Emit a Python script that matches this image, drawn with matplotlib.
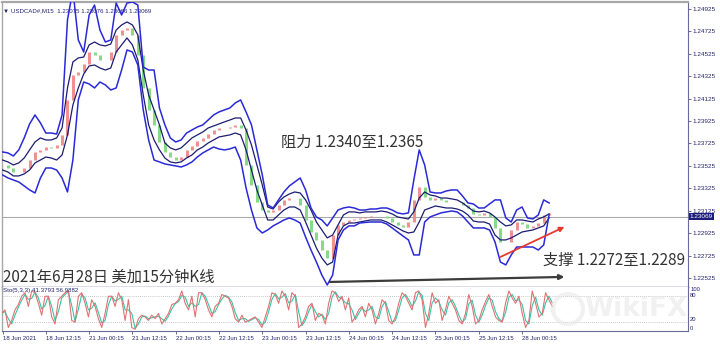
import numpy as np
import matplotlib
matplotlib.use("Agg")
import matplotlib.pyplot as plt
from matplotlib.patches import Ellipse

plt.rcParams['font.family'] = ['Noto Sans CJK SC', 'DejaVu Sans']

# USDCAD M15, one sample every 6 bars (bar 0 = 18 Jun 2021)
BAR_STEP = 6
upper_outer = [
    1.23649, 1.23640, 1.23613, 1.23667, 1.23774, 1.23899, 1.23979, 1.23908, 1.23818, 1.23818,
    1.23809, 1.23979, 1.24827, 1.25094, 1.24648, 1.24541, 1.24871, 1.24960, 1.24737, 1.24630,
    1.24648, 1.24978, 1.24871, 1.24978, 1.24987, 1.24960, 1.24407, 1.24380, 1.24380, 1.24041,
    1.23890, 1.23774, 1.23738, 1.23756, 1.23818, 1.23845, 1.23872, 1.23890, 1.23934, 1.23979,
    1.24006, 1.24024, 1.24041, 1.24086, 1.24113, 1.24006, 1.23890, 1.23667, 1.23444, 1.23176,
    1.23149, 1.23221, 1.23292, 1.23346, 1.23381, 1.23417, 1.23310, 1.23149, 1.23069, 1.23042,
    1.22989, 1.23060, 1.23131, 1.23149, 1.23158, 1.23149, 1.23131, 1.23131, 1.23140, 1.23140,
    1.23149, 1.23149, 1.23131, 1.23105, 1.23096, 1.23105, 1.23399, 1.23667, 1.23533, 1.23292,
    1.23283, 1.23283, 1.23301, 1.23310, 1.23310, 1.23256, 1.23194, 1.23185, 1.23149, 1.23149,
    1.23185, 1.23221, 1.23221, 1.23060, 1.23024, 1.23131, 1.23158, 1.23060, 1.23051, 1.23087,
    1.23221, 1.23194]
upper_inner = [
    1.23577, 1.23560, 1.23533, 1.23551, 1.23595, 1.23667, 1.23738, 1.23774, 1.23756, 1.23756,
    1.23774, 1.23863, 1.24220, 1.24452, 1.24488, 1.24496, 1.24604, 1.24630, 1.24604, 1.24595,
    1.24612, 1.24737, 1.24782, 1.24809, 1.24782, 1.24693, 1.24380, 1.24157, 1.24024, 1.23890,
    1.23729, 1.23685, 1.23667, 1.23685, 1.23729, 1.23774, 1.23801, 1.23827, 1.23863, 1.23881,
    1.23899, 1.23917, 1.23934, 1.23952, 1.23952, 1.23845, 1.23711, 1.23533, 1.23354, 1.23158,
    1.23140, 1.23203, 1.23247, 1.23274, 1.23292, 1.23283, 1.23221, 1.23131, 1.23024, 1.22953,
    1.22882, 1.22908, 1.22998, 1.23087, 1.23114, 1.23114, 1.23105, 1.23114, 1.23114, 1.23114,
    1.23122, 1.23114, 1.23096, 1.23069, 1.23060, 1.23051, 1.23114, 1.23238, 1.23292, 1.23265,
    1.23256, 1.23238, 1.23238, 1.23230, 1.23221, 1.23194, 1.23158, 1.23122, 1.23114, 1.23122,
    1.23105, 1.23069, 1.23024, 1.22989, 1.22998, 1.23042, 1.23042, 1.23033, 1.23024, 1.23051,
    1.23069, 1.23096]
close = [
    1.23533, 1.23506, 1.23470, 1.23470, 1.23506, 1.23577, 1.23649, 1.23667, 1.23693, 1.23685,
    1.23711, 1.23801, 1.24113, 1.24336, 1.24363, 1.24434, 1.24541, 1.24514, 1.24470, 1.24470,
    1.24541, 1.24693, 1.24737, 1.24755, 1.24693, 1.24514, 1.24220, 1.24024, 1.23890, 1.23738,
    1.23649, 1.23604, 1.23577, 1.23604, 1.23667, 1.23702, 1.23747, 1.23774, 1.23809, 1.23845,
    1.23863, 1.23863, 1.23872, 1.23890, 1.23863, 1.23533, 1.23354, 1.23203, 1.23131, 1.23114,
    1.23131, 1.23176, 1.23221, 1.23238, 1.23238, 1.23176, 1.23042, 1.22935, 1.22864, 1.22774,
    1.22703, 1.22908, 1.22998, 1.23024, 1.23042, 1.23051, 1.23060, 1.23069, 1.23078, 1.23078,
    1.23078, 1.23060, 1.23024, 1.22998, 1.22980, 1.23024, 1.23221, 1.23337, 1.23247, 1.23221,
    1.23238, 1.23221, 1.23203, 1.23203, 1.23203, 1.23176, 1.23149, 1.23096, 1.23087, 1.23105,
    1.23069, 1.22971, 1.22846, 1.22846, 1.22953, 1.23024, 1.23006, 1.22971, 1.22989, 1.23015,
    1.23087, 1.23105]
lower_inner = [
    1.23488, 1.23470, 1.23435, 1.23435, 1.23453, 1.23488, 1.23551, 1.23577, 1.23604, 1.23595,
    1.23577, 1.23622, 1.23801, 1.24068, 1.24220, 1.24345, 1.24416, 1.24425, 1.24398, 1.24380,
    1.24398, 1.24541, 1.24604, 1.24666, 1.24604, 1.24470, 1.24157, 1.23890, 1.23756, 1.23667,
    1.23595, 1.23560, 1.23551, 1.23560, 1.23595, 1.23622, 1.23667, 1.23693, 1.23729, 1.23756,
    1.23783, 1.23792, 1.23801, 1.23818, 1.23801, 1.23667, 1.23488, 1.23310, 1.23176, 1.23042,
    1.23042, 1.23087, 1.23131, 1.23158, 1.23158, 1.23131, 1.23024, 1.22908, 1.22792, 1.22703,
    1.22641, 1.22667, 1.22908, 1.22989, 1.23015, 1.23015, 1.23024, 1.23033, 1.23042, 1.23042,
    1.23042, 1.23024, 1.22998, 1.22971, 1.22944, 1.22926, 1.22935, 1.23024, 1.23131, 1.23149,
    1.23167, 1.23158, 1.23149, 1.23149, 1.23140, 1.23122, 1.23087, 1.23033, 1.23024, 1.23024,
    1.23006, 1.22908, 1.22864, 1.22864, 1.22882, 1.22908, 1.22935, 1.22944, 1.22953, 1.22971,
    1.22989, 1.23060]
lower_outer = [
    1.23444, 1.23417, 1.23399, 1.23381, 1.23346, 1.23310, 1.23283, 1.23417, 1.23506, 1.23506,
    1.23488, 1.23417, 1.23292, 1.23577, 1.24113, 1.24273, 1.24256, 1.24220, 1.24273, 1.24247,
    1.24202, 1.24220, 1.24380, 1.24559, 1.24541, 1.24425, 1.24024, 1.23756, 1.23577, 1.23560,
    1.23542, 1.23533, 1.23524, 1.23515, 1.23533, 1.23560, 1.23604, 1.23640, 1.23667, 1.23693,
    1.23676, 1.23667, 1.23676, 1.23693, 1.23577, 1.23328, 1.23131, 1.22971, 1.22926, 1.22953,
    1.22989, 1.23015, 1.23042, 1.23060, 1.23042, 1.23015, 1.22890, 1.22774, 1.22667, 1.22551,
    1.22462, 1.22551, 1.22864, 1.22953, 1.22989, 1.22989, 1.23015, 1.23020, 1.23024, 1.23024,
    1.23024, 1.23006, 1.22971, 1.22935, 1.22899, 1.22864, 1.22730, 1.22730, 1.23024, 1.23069,
    1.23087, 1.23105, 1.23114, 1.23122, 1.23114, 1.23078, 1.23024, 1.22971, 1.22971, 1.22971,
    1.22953, 1.22846, 1.22667, 1.22641, 1.22730, 1.22801, 1.22801, 1.22801, 1.22801, 1.22774,
    1.22819, 1.23087]

# Stochastic (5,3,3), one sample every 3.7 bars
STOCH_STEP = 3.7
stoch_main = [
    40, 48, 8, 24, 48, 60, 79, 87, 56, 91, 87, 63, 36, 79, 79, 32, 16, 71, 79, 87,
    91, 24, 20, 79, 87, 63, 32, 71, 56, 28, 8, 40, 79, 79, 56, 87, 71, 24, 71, 8,
    4, 28, 36, 32, 24, 36, 28, 40, 16, 28, 40, 60, 63, 71, 91, 63, 48, 79, 32, 87,
    87, 71, 48, 32, 56, 63, 83, 79, 75, 56, 28, 20, 36, 20, 24, 28, 32, 20, 8, 32,
    56, 87, 83, 63, 91, 79, 48, 87, 79, 8, 16, 32, 56, 63, 24, 40, 36, 16, 63, 91,
    87, 67, 79, 48, 75, 20, 32, 48,
    56, 32, 63, 48, 16, 40, 71, 63, 24, 16, 32, 63, 87, 79, 63, 48, 87, 91, 71, 8,
    40, 87, 63, 71, 24, 48, 79, 63, 48, 24, 16, 40, 83, 56, 16, 24, 48, 67, 83, 56,
    32, 24, 20, 63, 91, 75, 63, 79, 40, 8, 24, 91, 63, 32, 40, 87, 71, 56]
stoch_signal = [
    40, 44, 28, 16, 36, 54, 70, 83, 72, 74, 89, 75, 50, 58, 79, 56, 24, 44, 75, 83,
    89, 58, 22, 50, 83, 75, 48, 52, 64, 42, 18, 24, 60, 79, 68, 72, 79, 48, 48, 40,
    6, 16, 32, 34, 28, 30, 32, 34, 28, 22, 34, 50, 62, 67, 81, 77, 56, 64, 56, 60,
    87, 79, 60, 40, 44, 60, 73, 81, 77, 66, 42, 24, 28, 28, 22, 26, 30, 26, 14, 20,
    44, 72, 85, 73, 77, 85, 64, 68, 83, 44, 12, 24, 44, 60, 44, 32, 38, 26, 40, 77,
    89, 77, 73, 64, 62, 48, 26, 40,
    52, 44, 48, 56, 32, 28, 56, 67, 44, 20, 24, 48, 75, 83, 71, 56, 68, 89, 81, 40,
    24, 64, 75, 67, 48, 36, 64, 71, 56, 36, 20, 28, 62, 70, 36, 20, 36, 58, 75, 70,
    44, 28, 22, 42, 77, 83, 69, 71, 60, 24, 16, 58, 77, 48, 36, 64, 79, 64]

price_ticks = [1.22525, 1.22725, 1.22925, 1.23125, 1.23325, 1.23525, 1.23725,
               1.23925, 1.24125, 1.24325, 1.24525, 1.24725, 1.24925]
last_price = 1.23069
stoch_levels = [0, 20, 80, 100]
time_ticks = [0, 48, 96, 144, 192, 240, 288, 336, 384, 432, 480, 528, 576]
time_labels = ["18 Jun 2021", "18 Jun 12:15", "21 Jun 00:15", "21 Jun 12:15",
               "22 Jun 00:15", "22 Jun 12:15", "23 Jun 00:15", "23 Jun 12:15",
               "24 Jun 00:15", "24 Jun 12:15", "25 Jun 00:15", "25 Jun 12:15",
               "28 Jun 00:15"]

W, H = 720, 345
XLIM = (-0.6, 760)
YLIM = (1.22444, 1.24987)
LATIN = ['Liberation Sans', 'DejaVu Sans']
SMALL = dict(family=LATIN, color='#23236e')
BLUE, NAVY = '#2a2ad8', '#1c1c72'

fig = plt.figure(figsize=(W / 100, H / 100), dpi=100)
fig.patch.set_facecolor('white')
ax = fig.add_axes([2 / W, 1 - 287 / H, 686 / W, 285 / H])
ax2 = fig.add_axes([2 / W, 1 - 331 / H, 686 / W, 44 / H])

bars = np.arange(len(close)) * BAR_STEP

# candles: open = previous sample close
op = np.array(close[:-1])
cl = np.array(close[1:])
cols = np.where(cl >= op, '#f09090', '#86dc86')
ax.vlines(bars[1:], op, cl, colors=cols, lw=2.2, zorder=2)

ax.plot(bars, upper_outer, color=BLUE, lw=1.1, zorder=4)
ax.plot(bars, lower_outer, color=BLUE, lw=1.1, zorder=4)
ax.plot(bars, upper_inner, color=NAVY, lw=0.9, zorder=3)
ax.plot(bars, lower_inner, color=NAVY, lw=0.9, zorder=3)
ax.axhline(last_price, color='#a9a9a9', lw=0.8, zorder=1)

ax.set_xlim(*XLIM)
ax.set_ylim(*YLIM)
ax.set_xticks([])
ax.yaxis.tick_right()
ax.set_yticks(price_ticks)
ax.set_yticklabels([f"{v:.5f}" for v in price_ticks])
ax.tick_params(axis='y', length=2, width=0.6, color='#555577', pad=1.5,
               labelsize=4.6, labelcolor='#23236e')
for lab in ax.get_yticklabels():
    lab.set_family(LATIN)
ax.text(1.0025, last_price, f"{last_price:.5f}", transform=ax.get_yaxis_transform(),
        fontsize=4.6, color='white', va='center', ha='left', family=LATIN,
        bbox=dict(boxstyle='square,pad=0.15', fc='#1c1c7a', ec='none'))
for side, c, w in (('top', '#a8a8a8', 1.6), ('left', '#a8a8a8', 1.0),
                   ('bottom', '#5050a8', 1.0), ('right', '#6a6a9a', 0.8)):
    ax.spines[side].set_color(c)
    ax.spines[side].set_linewidth(w)

ax.text(0.5, 1.24906, "\u25bc USDCAD#,M15  1.23075 1.23076 1.23066 1.23069",
        fontsize=4.4, va='center', ha='left', zorder=1, **SMALL)

# annotations
ax.annotate("", xy=(623, 1.22534), xytext=(363, 1.22489),
            arrowprops=dict(arrowstyle='-|>', color='#3c3c3c', lw=1.6,
                            mutation_scale=7, shrinkA=0, shrinkB=0), zorder=5)
ax.annotate("", xy=(623, 1.22980), xytext=(552, 1.22712),
            arrowprops=dict(arrowstyle='-|>', color='#e8392e', lw=1.3,
                            mutation_scale=7, shrinkA=0, shrinkB=0), zorder=5)
ax.text(309, 1.23738, "阻力 1.2340至1.2365", fontsize=11, color='#333333',
        va='center', ha='left', zorder=6)
ax.text(599, 1.22686, "支撑 1.2272至1.2289", fontsize=11, color='#333333',
        va='center', ha='left', zorder=6)
ax.text(0.5, 1.22530, "2021年6月28日 美加15分钟K线", fontsize=11, color='#333333',
        va='center', ha='left', zorder=6)

# stochastic panel
sx = np.arange(len(stoch_main)) * STOCH_STEP - 1
ax2.plot(sx, stoch_signal, color='#38c4a4', lw=0.8, zorder=3)
ax2.plot(sx, stoch_main, color='#e07272', lw=0.8, zorder=4)
for lvl in stoch_levels[1:3]:
    ax2.axhline(lvl, color='#b4b4b4', lw=0.6, ls=(0, (1, 1.5)), zorder=1)
ax2.set_xlim(*XLIM)
ax2.set_ylim(0, 100)
ax2.yaxis.tick_right()
ax2.set_yticks(stoch_levels)
ax2.set_yticklabels([str(v) for v in stoch_levels])
ax2.tick_params(axis='y', length=0, pad=1.5, labelsize=4.2, labelcolor='#23236e')
for lab, va in zip(ax2.get_yticklabels(), ('bottom', 'bottom', 'center', 'top')):
    lab.set_va(va)
    lab.set_family(LATIN)
ax2.set_xticks(time_ticks)
ax2.set_xticklabels(time_labels)
ax2.tick_params(axis='x', length=2, width=0.6, color='#555577', pad=1.5,
                labelsize=4.3, labelcolor='#23236e')
for lab in ax2.get_xticklabels():
    lab.set_ha('left')
    lab.set_family(LATIN)
ax2.text(0.5, 93, "Sto(5,3,3) 41.3793 56.9882", fontsize=4.4, va='center',
         ha='left', zorder=5, **SMALL)
for side, c, w in (('top', '#5050a8', 0.0), ('left', '#a8a8a8', 1.0),
                   ('bottom', '#6a6a9a', 0.8), ('right', '#6a6a9a', 0.8)):
    ax2.spines[side].set_color(c)
    ax2.spines[side].set_linewidth(w)

# watermark
fig.add_artist(Ellipse((568 / W, 1 - 309 / H), 30 / W, 30 / H, fill=False,
                       lw=3, ec='#e8e8e8', alpha=0.6, zorder=10))
fig.text(636 / W, 1 - 309 / H, "WikiFX", fontsize=19, weight='bold',
         color='#e8e8e8', alpha=0.6, ha='center', va='center', zorder=10,
         family=['DejaVu Sans'])

fig.savefig("out.png", dpi=100)
